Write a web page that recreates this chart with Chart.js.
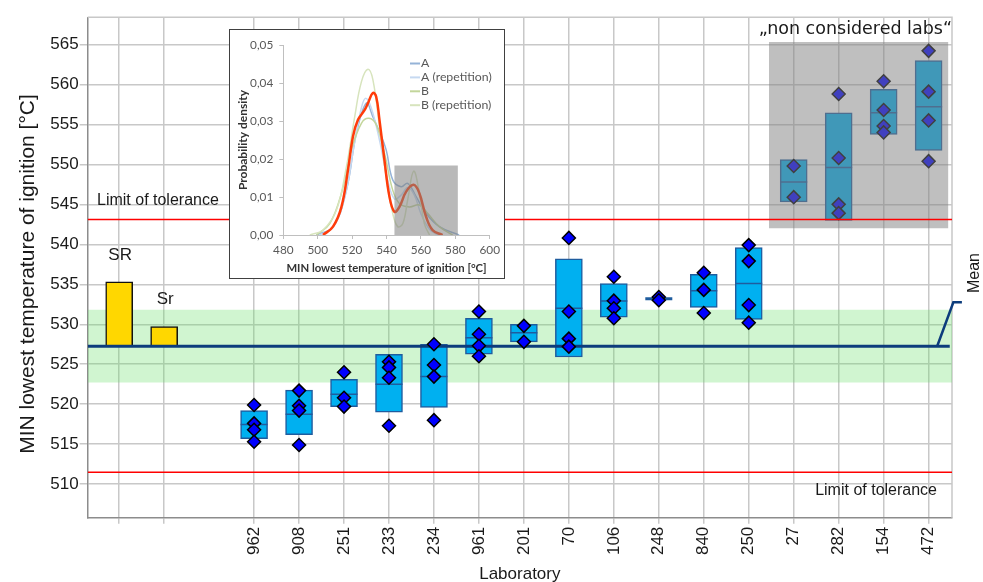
<!DOCTYPE html>
<html>
<head>
<meta charset="utf-8">
<script src="https://cdn.jsdelivr.net/npm/chart.js@4.4.1/dist/chart.umd.min.js"></script>
<style>
  body { margin: 0; background: #fff; }
  #wrap { position: relative; width: 983px; height: 582px; overflow: hidden; }
  #main { position: absolute; left: 0; top: 0; }
  #inset { position: absolute; left: 229px; top: 29px; width: 274px; height: 248px; border: 1px solid #404040; background: #fff; }
  #inset canvas { display: block; }
</style>
</head>
<body>
<div id="wrap">
  <canvas id="main" width="983" height="582"></canvas>
  <div id="inset"><canvas id="insetChart" width="274" height="248"></canvas></div>
</div>
<script>
// main chart values
const yTicks = [510, 515, 520, 525, 530, 535, 540, 545, 550, 555, 560, 565];
const srLabels = ['SR', 'Sr'];
const srValues = [535.3, 529.7];
const labs = ['962', '908', '251', '233', '234', '961', '201', '70', '106', '248', '840', '250', '27', '282', '154', '472'];
const boxLow  = [515.7, 516.2, 519.7, 519.0, 519.6, 526.25, 527.8, 525.9, 530.9, 533.2, 532.1, 530.6, 545.3, 543.0, 553.75, 551.75];
const boxMed  = [517.45, 518.75, 521.25, 522.5, 523.45, 528.3, 528.95, 532.0, 532.9, 533.2, 534.2, 535.1, 547.8, 549.6, 556.45, 557.2];
const boxHigh = [519.2, 521.75, 523.1, 526.25, 527.5, 530.75, 530.0, 538.2, 535.1, 533.2, 536.25, 539.6, 550.6, 556.45, 559.4, 563.0];
const labValues = [
  [519.9, 517.6, 516.8, 515.3],
  [521.7, 519.8, 519.2, 514.9],
  [524.0, 520.8, 519.7],
  [525.3, 524.6, 523.3, 517.3],
  [527.5, 524.9, 523.45, 518.0],
  [531.6, 528.75, 527.3, 526.0],
  [529.8, 527.8],
  [540.8, 531.6, 528.2, 527.2],
  [535.95, 532.95, 532.0, 530.75],
  [533.4, 533.0],
  [536.45, 534.3, 531.4],
  [539.9, 537.9, 532.4, 530.2],
  [549.8, 545.9],
  [558.8, 550.8, 545.0, 543.9],
  [560.4, 556.8, 554.8, 554.0],
  [564.2, 559.1, 555.5, 550.4]
];
const meanValue = 527.25;
const meanMarkValue = 532.75;
const toleranceHigh = 543.1;
const toleranceLow = 511.5;
const bandLow = 522.7;
const bandHigh = 531.8;
const excludedLow = 542.0;
const excludedHigh = 565.3;

// inset density curves
const aX = [499.3, 508.9, 516.7, 522.5, 528.3, 532.1, 535.9, 539.8, 543.6, 548.5, 552.3, 557.2, 563.0, 570.7, 582.2];
const aY = [0, 0.0022, 0.0118, 0.0268, 0.0347, 0.0311, 0.0272, 0.0224, 0.0145, 0.0127, 0.0136, 0.0101, 0.0057, 0.0022, 0];
const aRepX = [501, 509, 515.8, 521.5, 525.4, 527.9, 531.1, 535.9, 540.7, 544.6, 548.5, 552.3, 556.2, 560.1, 565.0, 570];
const aRepY = [0, 0.002, 0.01, 0.0245, 0.0335, 0.036, 0.0335, 0.025, 0.0145, 0.0095, 0.0105, 0.0125, 0.0105, 0.0055, 0.0015, 0];
const bX = [499.3, 507, 513.8, 519.6, 525.4, 529.8, 534.0, 538.8, 543.6, 547.5, 553.3, 559.1, 563.9, 570.7, 578.4];
const bY = [0, 0.003, 0.011, 0.0224, 0.0294, 0.0307, 0.029, 0.0215, 0.0118, 0.0083, 0.0074, 0.0079, 0.0057, 0.0022, 0];
const bRepX = [495.4, 503.1, 510.9, 516.7, 521.5, 525.4, 529.2, 532.1, 535.9, 539.8, 543.6, 546.5, 549.5, 552.4, 555.8, 559.1, 562.0, 565.0];
const bRepY = [0, 0.0013, 0.0066, 0.018, 0.0311, 0.0403, 0.0436, 0.0408, 0.0285, 0.0153, 0.0057, 0.0022, 0.003, 0.0095, 0.0168, 0.011, 0.003, 0];
const allX = [503.1, 508.9, 513.8, 517.6, 520.5, 523.4, 527.3, 529.2, 532.1, 534.0, 535.9, 538.8, 541.7, 544.6, 547.5, 551.4, 555.8, 559.1, 563.0, 566.8, 572.6];
const allY = [0, 0.0022, 0.0074, 0.0171, 0.0259, 0.0303, 0.0329, 0.0347, 0.0374, 0.0364, 0.0303, 0.0197, 0.0101, 0.0061, 0.0074, 0.0114, 0.0132, 0.011, 0.0048, 0.0013, 0];
const insetXTicks = [480, 500, 520, 540, 560, 580, 600];
const insetYTicks = [0, 0.01, 0.02, 0.03, 0.04, 0.05];

const FONT = '"Liberation Sans", Arial, sans-serif';
const GRID = '#c8c8c8';
const AXIS = '#8c8c8c';
const X_MIN = -0.7, X_MAX = 18.52;

const labPos = labs.map((_, i) => i + 3);
const tickPos = [0, 1, ...labPos];
const tickText = ['', '', ...labs];
const pts = (xs, ys) => xs.map((x, i) => ({ x, y: ys[i] }));

const mainTexts = {
  id: 'mainTexts',
  beforeDatasetsDraw(chart) {
    const { ctx, chartArea: a } = chart;
    ctx.save();
    ctx.strokeStyle = GRID;
    ctx.lineWidth = 1.5;
    ctx.beginPath();
    ctx.moveTo(a.left, a.top); ctx.lineTo(a.right, a.top); ctx.lineTo(a.right, a.bottom);
    ctx.stroke();
    ctx.restore();
  },
  afterDraw(chart) {
    const { ctx, scales: { x, y } } = chart;
    ctx.save();
    ctx.fillStyle = '#1a1a1a';
    ctx.textBaseline = 'middle';
    ctx.textAlign = 'center';
    ctx.font = '17px ' + FONT;
    srLabels.forEach((t, i) => ctx.fillText(t, x.getPixelForValue(i) + 1, y.getPixelForValue(srValues[i]) - 27));
    ctx.font = '16px ' + FONT;
    ctx.textAlign = 'left';
    ctx.fillText('Limit of tolerance', 97, y.getPixelForValue(toleranceHigh) - 19);
    ctx.textAlign = 'right';
    ctx.fillText('Limit of tolerance', 937, y.getPixelForValue(toleranceLow) + 18.5);
    ctx.font = '17.5px "DejaVu Sans", sans-serif';
    ctx.fillText('\u201Enon considered labs\u201C', 952, 29);
    ctx.restore();

    ctx.save();
    ctx.fillStyle = '#1a1a1a';
    ctx.textAlign = 'center';
    ctx.textBaseline = 'middle';
    ctx.translate(975, 273);
    ctx.rotate(-Math.PI / 2);
    ctx.font = '16px ' + FONT;
    ctx.fillText('Mean', 0, 0);
    ctx.restore();

    ctx.save();
    ctx.fillStyle = '#1a1a1a';
    ctx.textAlign = 'center';
    ctx.textBaseline = 'middle';
    ctx.translate(28, 274);
    ctx.rotate(-Math.PI / 2);
    ctx.font = '21px ' + FONT;
    ctx.fillText('MIN lowest temperature of ignition [\u00B0C]', 0, 0);
    ctx.restore();
  }
};

new Chart(document.getElementById('main'), {
  type: 'bar',
  data: {
    datasets: [
      {
        type: 'line', label: 'band', order: 20,
        data: [{ x: X_MIN, y: bandHigh }, { x: X_MAX, y: bandHigh }],
        fill: { value: bandLow }, backgroundColor: 'rgba(110,225,110,0.32)',
        borderWidth: 0, pointRadius: 0
      },
      {
        type: 'bar', label: 'boxes', order: 18,
        data: [
          ...srValues.map((v, i) => ({ x: i, y: [meanValue, v] })),
          ...labs.map((_, i) => ({ x: labPos[i], y: [boxLow[i], boxHigh[i]] }))
        ],
        backgroundColor: c => c.dataIndex < 2 ? '#ffd700' : '#00b0f0',
        borderColor: c => c.dataIndex < 2 ? '#111111' : '#1f5c9e',
        borderWidth: 1.5, borderSkipped: false, barThickness: 27
      },
      {
        type: 'line', label: 'median', order: 17, showLine: false,
        data: labs.map((_, i) => ({ x: labPos[i], y: boxMed[i] })),
        pointStyle: 'line', pointRadius: 13.5, pointHoverRadius: 13.5,
        pointBorderColor: '#1f5c9e',
        pointBorderWidth: c => boxLow[c.dataIndex] === boxHigh[c.dataIndex] ? 3 : 1.5
      },
      {
        type: 'line', label: 'mean', order: 16,
        data: [{ x: X_MIN, y: meanValue }, { x: 18.47, y: meanValue }],
        borderColor: '#0c3c7c', borderWidth: 3, pointRadius: 0
      },
      {
        type: 'line', label: 'mean mark', order: 16, clip: false,
        data: [{ x: 18.74, y: meanMarkValue }, { x: 18.55, y: meanMarkValue }, { x: 18.19, y: meanValue }],
        borderColor: '#0c3c7c', borderWidth: 2.5, pointRadius: 0
      },
      {
        type: 'line', label: 'results', order: 15, showLine: false,
        data: labValues.flatMap((vals, i) => vals.map(v => ({ x: labPos[i], y: v }))),
        pointStyle: 'rectRot', pointRadius: 6.5, pointHoverRadius: 6.5,
        pointBackgroundColor: '#0000ff', pointBorderColor: '#000000', pointBorderWidth: 1.5
      },
      {
        type: 'line', label: 'non considered', order: 3,
        data: [{ x: 14.45, y: excludedHigh }, { x: 18.44, y: excludedHigh }],
        fill: { value: excludedLow }, backgroundColor: 'rgba(128,128,128,0.5)',
        borderWidth: 0, pointRadius: 0
      },
      {
        type: 'line', label: 'tol high', order: 2,
        data: [{ x: X_MIN, y: toleranceHigh }, { x: X_MAX, y: toleranceHigh }],
        borderColor: '#ff0000', borderWidth: 1.5, pointRadius: 0
      },
      {
        type: 'line', label: 'tol low', order: 2,
        data: [{ x: X_MIN, y: toleranceLow }, { x: X_MAX, y: toleranceLow }],
        borderColor: '#ff0000', borderWidth: 1.5, pointRadius: 0
      }
    ]
  },
  options: {
    responsive: false,
    animation: false,
    devicePixelRatio: 1,
    layout: { padding: { top: 17.3, right: 31, left: 0, bottom: 0 } },
    plugins: { legend: { display: false }, tooltip: { enabled: false } },
    scales: {
      x: {
        type: 'linear', min: X_MIN, max: X_MAX, offset: false,
        afterBuildTicks: s => { s.ticks = tickPos.map(v => ({ value: v })); },
        afterFit: s => { s.height = 64.3; },
        grid: { color: GRID, lineWidth: 1.5, tickLength: 6, offset: false },
        border: { color: AXIS, width: 1.5 },
        ticks: {
          autoSkip: false, minRotation: 90, maxRotation: 90, padding: 3,
          color: '#1a1a1a', font: { family: FONT, size: 17 },
          callback: v => tickText[tickPos.indexOf(v)] ?? ''
        },
        title: {
          display: true, text: 'Laboratory', color: '#1a1a1a',
          font: { family: FONT, size: 17, lineHeight: 0.9 }, padding: { top: 0, bottom: 0 }
        }
      },
      y: {
        min: 505.8, max: 568.4,
        afterBuildTicks: s => { s.ticks = yTicks.map(v => ({ value: v })); },
        afterFit: s => { s.width = 87.7; },
        grid: { color: GRID, lineWidth: 1.5, tickLength: 8 },
        border: { color: AXIS, width: 1.5 },
        ticks: { padding: 1, color: '#1a1a1a', font: { family: FONT, size: 17 } }
      }
    }
  },
  plugins: [mainTexts]
});

const insetLegend = {
  id: 'insetLegend',
  afterDraw(chart) {
    const ctx = chart.ctx;
    ctx.save();
    ctx.font = '12.3px Lato, sans-serif';
    ctx.fillStyle = '#595959';
    ctx.textBaseline = 'middle';
    chart.data.datasets.slice(0, 4).forEach((ds, i) => {
      const yy = 33.5 + i * 13.9;
      ctx.strokeStyle = ds.borderColor;
      ctx.lineWidth = 2;
      ctx.beginPath(); ctx.moveTo(180, yy); ctx.lineTo(190, yy); ctx.stroke();
      ctx.fillText(ds.label, 191, yy);
    });
    ctx.restore();
  }
};

new Chart(document.getElementById('insetChart'), {
  type: 'line',
  data: {
    datasets: [
      { label: 'A', data: pts(aX, aY), borderColor: '#95b3d7', borderWidth: 1.5, order: 6 },
      { label: 'A (repetition)', data: pts(aRepX, aRepY), borderColor: '#c6d9f1', borderWidth: 1.5, order: 5 },
      { label: 'B', data: pts(bX, bY), borderColor: '#c3d69b', borderWidth: 1.5, order: 4 },
      { label: 'B (repetition)', data: pts(bRepX, bRepY), borderColor: '#d7e4bd', borderWidth: 1.5, order: 3 },
      { label: 'all', data: pts(allX, allY), borderColor: '#ff3c0a', borderWidth: 2.5, order: 2 },
      {
        label: 'non considered', data: [{ x: 544.5, y: 0.0183 }, { x: 581.5, y: 0.0183 }],
        fill: { value: 0 }, backgroundColor: 'rgba(128,128,128,0.55)', borderWidth: 0, tension: 0, order: 1
      }
    ]
  },
  options: {
    responsive: false,
    animation: false,
    devicePixelRatio: 1,
    layout: { padding: { top: 15, right: 13.3, left: 0, bottom: 0 } },
    elements: { point: { radius: 0 }, line: { tension: 0.4 } },
    plugins: { legend: { display: false }, tooltip: { enabled: false } },
    scales: {
      x: {
        type: 'linear', min: 480, max: 600,
        afterBuildTicks: s => { s.ticks = insetXTicks.map(v => ({ value: v })); },
        afterFit: s => { s.height = 43; },
        grid: { drawOnChartArea: false, tickLength: 4, color: '#bfbfbf' },
        border: { color: '#bfbfbf' },
        ticks: { padding: 4, color: '#595959', font: { family: 'Lato, sans-serif', size: 11.8 } },
        title: {
          display: true, text: 'MIN lowest temperature of ignition [\u00B0C]', color: '#333',
          font: { family: 'Lato, sans-serif', size: 11.3, weight: 'bold' }, padding: { top: 0, bottom: 3.2 }
        }
      },
      y: {
        min: 0, max: 0.05,
        afterBuildTicks: s => { s.ticks = insetYTicks.map(v => ({ value: v })); },
        afterFit: s => { s.width = 53.3; },
        grid: { drawOnChartArea: false, tickLength: 4, color: '#bfbfbf' },
        border: { color: '#bfbfbf' },
        ticks: {
          padding: 6, color: '#595959', font: { family: 'Lato, sans-serif', size: 11.8 },
          callback: v => v.toFixed(2).replace('.', ',')
        },
        title: {
          display: true, text: 'Probability density', color: '#333',
          font: { family: 'Lato, sans-serif', size: 12, weight: 'bold' }, padding: { top: 5.8, bottom: 0 }
        }
      }
    }
  },
  plugins: [insetLegend]
});
</script>
</body>
</html>
